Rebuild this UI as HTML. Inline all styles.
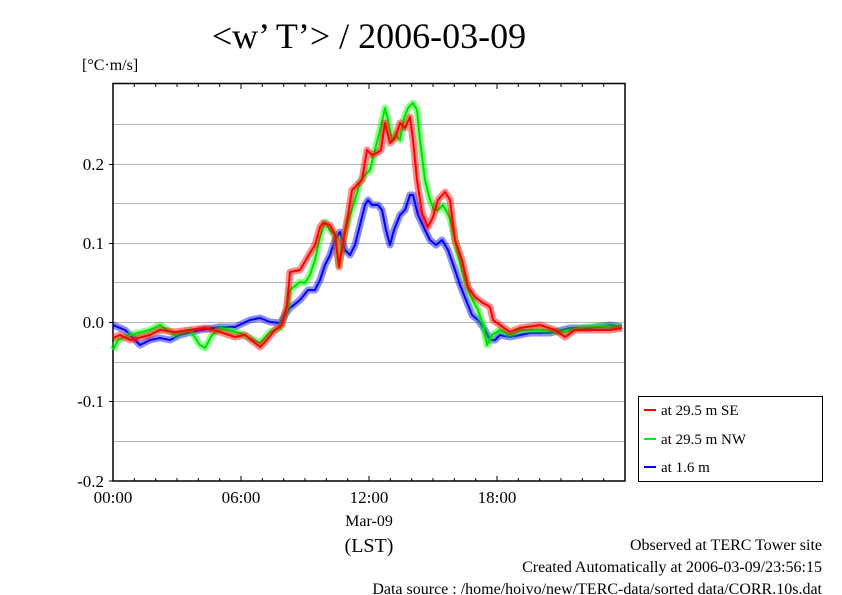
<!DOCTYPE html>
<html><head><style>body{margin:0;background:#fff}svg{display:block}text{font-family:"Liberation Serif",serif;fill:#000}</style></head><body>
<svg width="842" height="595" viewBox="0 0 842 595">
<text x="369" y="48" font-size="36" text-anchor="middle">&lt;w’ T’&gt; / 2006-03-09</text>
<text x="82" y="70" font-size="16">[°C·m/s]</text>
<g stroke="#b4b4b4" stroke-width="1">
<line x1="113" x2="625" y1="124.5" y2="124.5"/><line x1="113" x2="625" y1="164.5" y2="164.5"/><line x1="113" x2="625" y1="203.5" y2="203.5"/><line x1="113" x2="625" y1="243.5" y2="243.5"/><line x1="113" x2="625" y1="282.5" y2="282.5"/><line x1="113" x2="625" y1="322.5" y2="322.5"/><line x1="113" x2="625" y1="362.5" y2="362.5"/><line x1="113" x2="625" y1="401.5" y2="401.5"/><line x1="113" x2="625" y1="441.5" y2="441.5"/>
</g>
<g stroke="#000" stroke-width="1">
<path d="M134.3 84v3M155.7 84v3M177 84v3M198.3 84v3M219.7 84v3M241 84v5M262.3 84v3M283.7 84v3M305 84v3M326.3 84v3M347.7 84v3M369 84v5M390.3 84v3M411.7 84v3M433 84v3M454.3 84v3M475.7 84v3M497 84v5M518.3 84v3M539.7 84v3M561 84v3M582.3 84v3M603.7 84v3"/>
<path d="M134.3 481v-3M155.7 481v-3M177 481v-3M198.3 481v-3M219.7 481v-3M241 481v-5M262.3 481v-3M283.7 481v-3M305 481v-3M326.3 481v-3M347.7 481v-3M369 481v-5M390.3 481v-3M411.7 481v-3M433 481v-3M454.3 481v-3M475.7 481v-3M497 481v-5M518.3 481v-3M539.7 481v-3M561 481v-3M582.3 481v-3M603.7 481v-3"/>
<path d="M109 164.5h4M109 243.5h4M109 322.5h4M109 401.5h4M109 481h4"/>
</g>
<rect x="113" y="83.5" width="512" height="397.5" fill="none" stroke="#000" stroke-width="1.5"/>
<g font-size="17" text-anchor="end">
<text x="104" y="170">0.2</text><text x="104" y="249">0.1</text><text x="104" y="328">0.0</text><text x="104" y="407">-0.1</text><text x="104" y="487">-0.2</text>
</g>
<g font-size="17" text-anchor="middle">
<text x="113" y="503">00:00</text><text x="241" y="503">06:00</text><text x="369" y="503">12:00</text><text x="497" y="503">18:00</text>
<text x="369" y="526" font-size="16">Mar-09</text><text x="369" y="552" font-size="20">(LST)</text>
</g>
<g font-size="16" text-anchor="end">
<text x="822" y="550">Observed at TERC Tower site</text>
<text x="822" y="572">Created Automatically at 2006-03-09/23:56:15</text>
<text x="822" y="594">Data source : /home/hoivo/new/TERC-data/sorted  data/CORR.10s.dat</text>
</g>
<defs>
<polyline id="b" points="113,325 120,328 125,330 135,340 140,345 150,340 160,338 170,340 180,335 200,330 220,327 235,327 250,320 260,318 270,322 280,323 285,315 290,308 300,300 308,290 315,290 320,280 325,265 330,255 335,240 340,232 345,250 350,255 355,245 360,225 365,205 368,200 372,205 378,205 382,210 386,230 390,245 394,230 400,215 405,210 410,195 413,195 418,215 425,230 430,240 436,245 442,240 448,250 455,270 460,285 466,300 472,315 478,320 485,330 490,340 495,340 500,335 510,337 530,333 550,333 570,328 590,328 610,325 622,327"/>
<polyline id="g" points="113,350 118,340 130,335 150,330 160,325 175,335 190,330 200,345 205,348 212,335 220,328 240,333 260,343 270,332 280,328 287,310 290,290 300,282 305,283 310,275 315,260 320,237 325,222 330,230 335,235 339,265 343,240 350,215 355,200 360,182 365,175 370,170 375,150 380,130 385,108 388,120 392,140 396,135 400,140 404,118 408,108 413,103 417,110 420,140 425,180 430,200 434,210 438,210 443,205 450,218 455,240 462,270 470,295 478,310 483,325 487,345 492,335 500,330 510,335 520,330 540,330 560,332 580,328 600,326 622,327"/>
<polyline id="r" points="113,338 120,335 130,340 150,335 160,330 175,332 190,330 205,328 220,332 235,337 245,335 260,347 265,342 275,330 282,325 287,305 290,272 300,270 310,253 315,245 320,227 323,223 330,225 335,235 339,267 343,243 348,215 352,190 357,185 362,180 367,150 372,155 377,153 381,150 385,123 390,143 395,138 400,123 405,128 410,117 413,140 417,180 422,213 428,227 433,217 438,200 445,192 450,200 455,240 462,260 468,287 475,297 483,303 490,307 493,320 500,325 510,332 520,328 540,325 555,330 565,337 575,330 590,330 610,330 622,328"/>
</defs>
<g fill="none" stroke-linejoin="round">
<use href="#b" stroke="#0000ff" stroke-opacity="0.45" stroke-width="7"/>
<use href="#b" stroke="#0000ff" stroke-width="2"/>
<use href="#g" stroke="#00ff00" stroke-opacity="0.45" stroke-width="7"/>
<use href="#g" stroke="#00e000" stroke-width="2"/>
<use href="#r" stroke="#ff0000" stroke-opacity="0.45" stroke-width="7"/>
<use href="#r" stroke="#ff0000" stroke-width="2"/>
</g>
<rect x="638.5" y="396.5" width="184" height="85" fill="#fff" stroke="#000"/>
<g stroke-width="2"><line x1="644" x2="656" y1="410" y2="410" stroke="#f00"/><line x1="644" x2="656" y1="439" y2="439" stroke="#0e0"/><line x1="644" x2="656" y1="467" y2="467" stroke="#00f"/></g>
<g font-size="15"><text x="661" y="415">at 29.5 m SE</text><text x="661" y="444">at 29.5 m NW</text><text x="661" y="472">at 1.6 m</text></g>
</svg>
</body></html>
